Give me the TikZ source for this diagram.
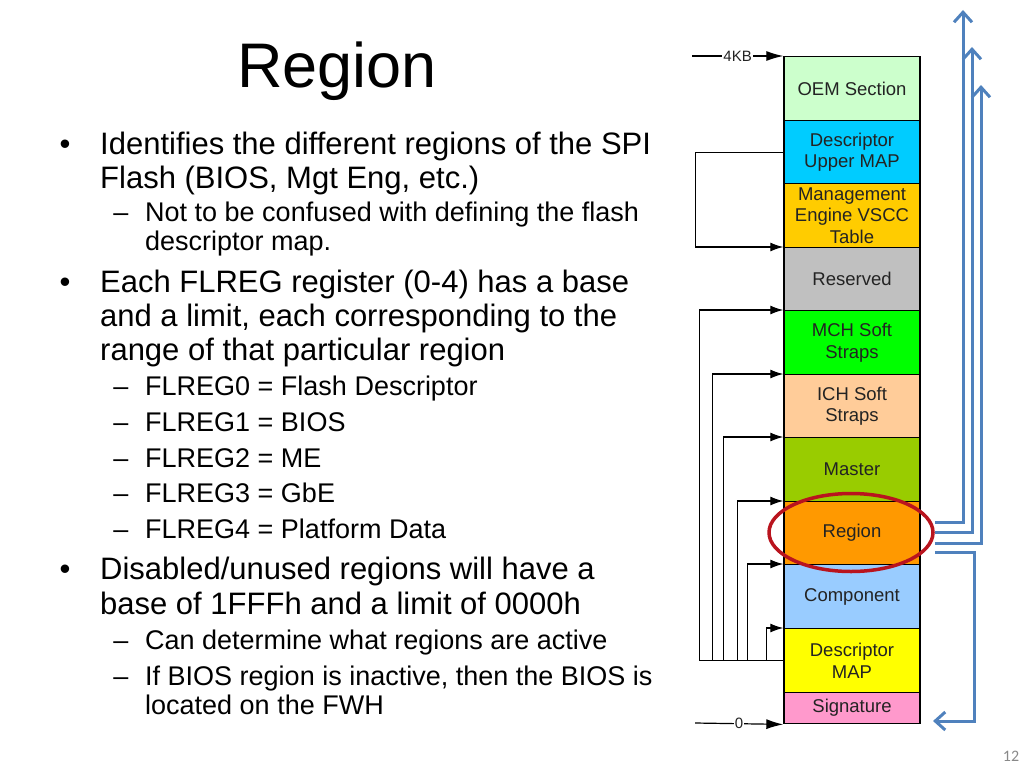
\documentclass[tikz,border=0pt]{standalone}
\usepackage{fontspec}
\setmainfont{Liberation Sans}
\newfontfamily\pgnumfont{Carlito}
\usetikzlibrary{arrows.meta,shapes.geometric,calc}
\definecolor{oemc}{RGB}{204,255,204}
\definecolor{dupc}{RGB}{0,204,255}
\definecolor{mgmc}{RGB}{255,204,0}
\definecolor{resc}{RGB}{192,192,192}
\definecolor{mchc}{RGB}{0,255,0}
\definecolor{ichc}{RGB}{255,204,153}
\definecolor{mstc}{RGB}{153,204,0}
\definecolor{regc}{RGB}{255,153,0}
\definecolor{cmpc}{RGB}{153,204,255}
\definecolor{dmpc}{RGB}{255,255,0}
\definecolor{sigc}{RGB}{255,153,204}
\definecolor{labc}{RGB}{35,35,35}
\definecolor{blc}{RGB}{79,129,189}
\definecolor{ringc}{RGB}{185,20,30}
\definecolor{pgc}{RGB}{137,137,137}
\begin{document}
\begin{tikzpicture}[x=1pt,y=-1pt,
  cell/.style={draw=black, line width=1.4pt, minimum width=136pt, inner sep=0pt,
    align=center, anchor=north, text=labc, font=\fontsize{18.5}{21.5}\selectfont},
  mainline/.style={anchor=base west, inner sep=0pt, font=\fontsize{31}{34}\selectfont},
  subline/.style={anchor=base west, inner sep=0pt, font=\fontsize{27}{29}\selectfont},
  bul/.style={anchor=base, inner sep=0pt, font=\fontsize{31}{34}\selectfont},
  sdash/.style={anchor=base, inner sep=0pt, font=\fontsize{27}{29}\selectfont},
  conn/.style={draw=black, line width=1.2pt, -{Latex[length=13pt,width=9pt]}},
  addr/.style={draw=black, line width=1.2pt, -{Latex[length=17pt,width=10pt]}},
  addrlab/.style={fill=white, inner sep=1pt, text=labc, font=\fontsize{15}{17}\selectfont},
  bluearrow/.style={draw=blc, line width=3pt, -{Straight Barb[length=10pt,width=18pt]}},
  ring/.style={draw=ringc, line width=3.5pt, ellipse, minimum width=164pt, minimum height=78pt, inner sep=0pt}
]
\useasboundingbox (0,0) rectangle (1024,768);

% title
\node[anchor=base, inner sep=0pt, font=\fontsize{63}{70}\selectfont] (title) at (337,87) {Region};

% text
\node[bul] (b1) at (65,154) {•};
\node[mainline] (l1) at (100,154) {Identifies the different regions of the SPI};
\node[mainline] (l2) at (100,188) {Flash (BIOS, Mgt Eng, etc.)};
\node[sdash] (d1) at (121,221) {–};
\node[subline] (l3) at (145,221) {Not to be confused with defining the flash};
\node[subline] (l4) at (145,250) {descriptor map.};
\node[bul] (b2) at (65,292) {•};
\node[mainline] (l5) at (100,292) {Each FLREG register (0-4) has a base};
\node[mainline] (l6) at (100,326) {and a limit, each corresponding to the};
\node[mainline] (l7) at (100,360) {range of that particular region};
\node[sdash] (d2) at (121,395) {–};
\node[subline] (l8) at (145,395) {FLREG0 = Flash Descriptor};
\node[sdash] (d3) at (121,431) {–};
\node[subline] (l9) at (145,431) {FLREG1 = BIOS};
\node[sdash] (d4) at (121,467) {–};
\node[subline] (l10) at (145,467) {FLREG2 = ME};
\node[sdash] (d5) at (121,502) {–};
\node[subline] (l11) at (145,502) {FLREG3 = GbE};
\node[sdash] (d6) at (121,538) {–};
\node[subline] (l12) at (145,538) {FLREG4 = Platform Data};
\node[bul] (b3) at (65,579) {•};
\node[mainline] (l13) at (100,579) {Disabled/unused regions will have a};
\node[mainline] (l14) at (100,614) {base of 1FFFh and a limit of 0000h};
\node[sdash] (d7) at (121,649) {–};
\node[subline] (l15) at (145,649) {Can determine what regions are active};
\node[sdash] (d8) at (121,685) {–};
\node[subline] (l16) at (145,685) {If BIOS region is inactive, then the BIOS is};
\node[subline] (l17) at (145,714) {located on the FWH};

% flash map cells
\node[cell, fill=oemc, minimum height=64pt] (oem) at (852,56) {OEM Section};
\node[cell, fill=dupc, minimum height=63pt] (dup) at (852,120) {Descriptor\\Upper MAP};
\node[cell, fill=mgmc, minimum height=64pt] (mgm) at (852,183) {Management\\Engine VSCC\\Table};
\node[cell, fill=resc, minimum height=63pt] (res) at (852,247) {Reserved};
\node[cell, fill=mchc, minimum height=64pt] (mch) at (852,310) {MCH Soft\\Straps};
\node[cell, fill=ichc, minimum height=63pt] (ich) at (852,374) {ICH Soft\\Straps};
\node[cell, fill=mstc, minimum height=64pt] (mst) at (852,437) {Master};
\node[cell, fill=regc, minimum height=63pt] (reg) at (852,501) {Region};
\node[cell, fill=cmpc, minimum height=64pt] (cmp) at (852,564) {Component};
\node[cell, fill=dmpc, minimum height=64pt] (dmp) at (852,628) {Descriptor\\MAP};
\node[cell, fill=sigc, minimum height=31pt] (sig) at (852,692) {Signature};

% address markers
\coordinate (a4k) at (692,56);
\coordinate (a0) at (695,723);
\draw[addr] (a4k) -- node[addrlab] (k4) {4KB} (oem.north west);
\draw[addr] (a0) -- node[addrlab] (k0) {0} (sig.south west);

% black pointer connectors
\draw[conn] (dup.west) -- ++(-88,0) |- (res.north west);
\draw[conn] (dmp.west) -- ++(-84,0) |- (mch.north west);
\draw[conn] (dmp.west) -- ++(-71,0) |- (ich.north west);
\draw[conn] (dmp.west) -- ++(-60,0) |- (mst.north west);
\draw[conn] (dmp.west) -- ++(-46,0) |- (reg.north west);
\draw[conn] (dmp.west) -- ++(-36,0) |- (cmp.north west);
\draw[conn] (dmp.west) -- ++(-17,0) |- (dmp.north west);

% highlight ring
\node[ring] (rg) at (851,532.5) {};

% blue arrows
\coordinate (t1) at (963,10);
\coordinate (t2) at (972,47);
\coordinate (t3) at (981,85);
\coordinate (t4) at (933,721);
\draw[bluearrow] ([yshift=10.5pt]rg.east) -| (t1);
\draw[bluearrow] (rg.east) -| (t2);
\draw[bluearrow] ([yshift=-10.5pt]rg.east) -| (t3);
\draw[bluearrow] ([yshift=-19.5pt]rg.east) -- ++(40,0) |- (t4);

% page number
\node[text=pgc, inner sep=0pt, font=\pgnumfont\fontsize{16}{18}\selectfont] (pg) at (1011,756) {12};
\end{tikzpicture}
\end{document}
